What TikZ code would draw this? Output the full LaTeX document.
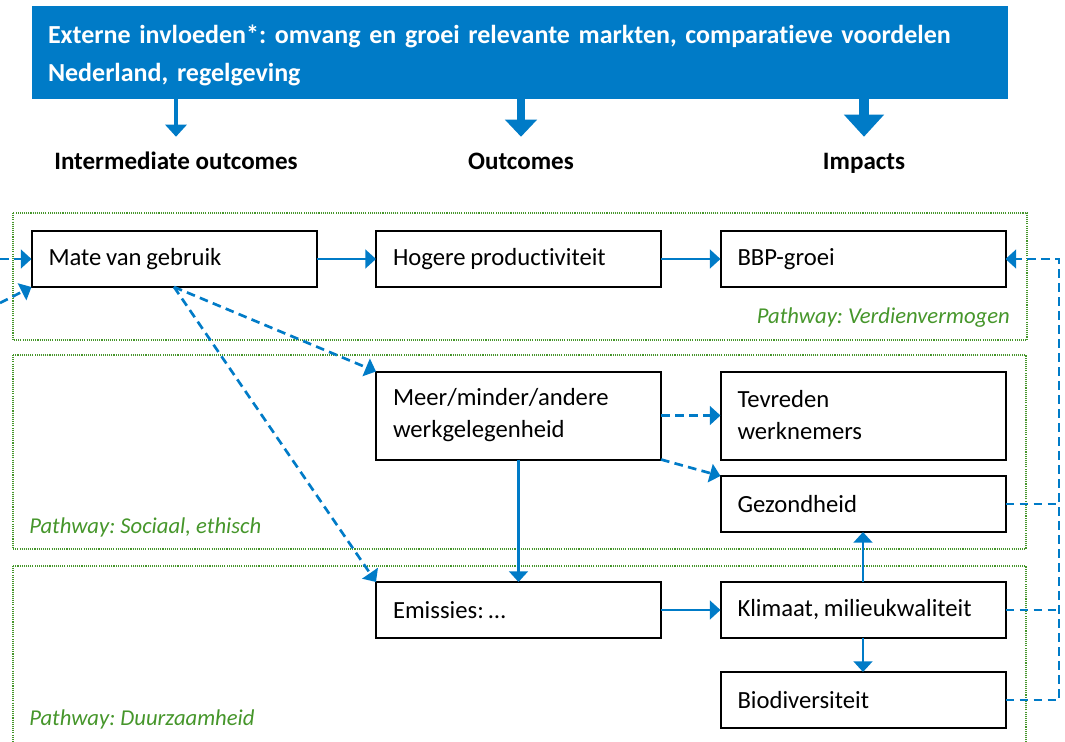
\documentclass[tikz,border=0pt]{standalone}
\usepackage{fontspec}
\setmainfont{Carlito}[Ligatures=NoCommon]
\usepackage{tikz}
\usetikzlibrary{arrows.meta}
\usetikzlibrary{calc}
\usetikzlibrary{positioning}
\definecolor{roblue}{HTML}{007BC7}
\definecolor{rogreen}{HTML}{46962B}
\frenchspacing

\begin{document}
\begin{tikzpicture}[
  x=0.75pt, y=-0.75pt,
  > = {Triangle[length=8pt,width=14pt]},
  box/.style = {draw=black,line width=1.5pt,fill=white,outer sep=0pt,
    minimum width=213.75pt,minimum height=42pt,text width=188.25pt,
    inner xsep=12.75pt,align=left,font=\fontsize{18.5}{24}\selectfont,
    execute at begin node={\spaceskip=3.5pt\relax}},
  tallbox/.style = {box,minimum height=66pt},
  pathway/.style = {draw=rogreen,line width=0.8pt,dash pattern=on 0.8pt off 0.8pt},
  pathlabel/.style = {text=rogreen,inner sep=0pt,font=\fontsize{17}{20}\selectfont\itshape},
  header/.style = {anchor=base,inner xsep=0pt,inner ysep=12.75pt,text height=12pt,text depth=3pt,
    font=\fontsize{18.8}{22}\selectfont\bfseries},
  flow/.style = {draw=roblue,line width=2pt,->},
  maybe/.style = {flow,dash pattern=on 6.5pt off 4pt},
  ]
  \useasboundingbox (0,0) rectangle (1065,742);

  \draw[pathway] (13,213) rectangle (1027,340);
  \draw[pathway] (13,355) rectangle (1026,549);
  \draw[pathway] (13,566) rectangle (1026,760);

  \node[fill=roblue,text=white,inner sep=0pt,inner xsep=12pt,minimum width=732pt,minimum height=69.75pt,
    text width=708pt,text height=14.5pt,text depth=28.7pt,align=left,
    font=\fontsize{19.5}{28.5}\selectfont\bfseries] (extern) at (520,52.5)
    {Externe invloeden*: omvang en groei relevante markten, comparatieve voordelen\\Nederland, regelgeving};

  \node[header] (inter) at (176,170) {Intermediate outcomes};
  \node[header] (outc) at (521,170) {Outcomes};
  \node[header] (impact) at (864,170) {Impacts};

  \draw[roblue,line width=3pt,-{Triangle[length=9pt,width=15.75pt]}] (extern.south -| inter.north) -- (inter.north);
  \draw[roblue,line width=6pt,-{Triangle[length=12.75pt,width=23.25pt]}] (extern.south -| outc.north) -- (outc.north);
  \draw[roblue,line width=7pt,-{Triangle[length=16.5pt,width=29pt]}] (extern.south -| impact.north) -- (impact.north);

  \node[box] (gebruik) at (174,259) {Mate van gebruik};
  \node[box] (prod) at (518.5,259) {Hogere productiviteit};
  \node[box] (bbp) at (863,259) {BBP-groei};
  \node[tallbox] (werk) at (518.5,415.5) {Meer/minder/andere\\werkgelegenheid};
  \node[tallbox] (tevreden) at (863,415.5) {Tevreden\\werknemers};
  \node[box] (gezond) at (863,504) {Gezondheid};
  \node[box] (emissies) at (518.5,610) {Emissies: \dots};
  \node[box] (klimaat) at (863,610) {Klimaat, milieukwaliteit};
  \node[box] (bio) at (863,700) {Biodiversiteit};

  \node[pathlabel,anchor=base east] (verdien) at (1010,323) {Pathway: Verdienvermogen};
  \node[pathlabel,anchor=base west] (sociaal) at (29,533) {Pathway: Sociaal, ethisch};
  \node[pathlabel,anchor=base west] (duurzaam) at (29,725) {Pathway: Duurzaamheid};

  \coordinate (in1) at (0,259);
  \coordinate (in2) at (0,303);
  \coordinate (fb) at (1059,259);

  \draw[maybe] (in1) -- (gebruik.west);
  \draw[maybe] (in2) -- (gebruik.south west);
  \draw[flow] (gebruik) -- (prod);
  \draw[flow] (prod) -- (bbp);
  \draw[maybe] (gebruik.south) -- (werk.north west);
  \draw[maybe] (gebruik.south) -- (emissies.north west);
  \draw[maybe] (werk.east) -- (tevreden.west);
  \draw[maybe] (werk.south east) -- (gezond.north west);
  \draw[flow] (werk) -- (emissies);
  \draw[flow] (emissies) -- (klimaat);
  \draw[flow] (klimaat) -- (gezond);
  \draw[flow] (klimaat) -- (bio);

  \draw[maybe,-] (gezond.east) -- (gezond.east -| fb);
  \draw[maybe,-] (klimaat.east) -- (klimaat.east -| fb);
  \draw[maybe] (bio.east) -| (fb) -- (bbp.east);

\end{tikzpicture}
\end{document}
